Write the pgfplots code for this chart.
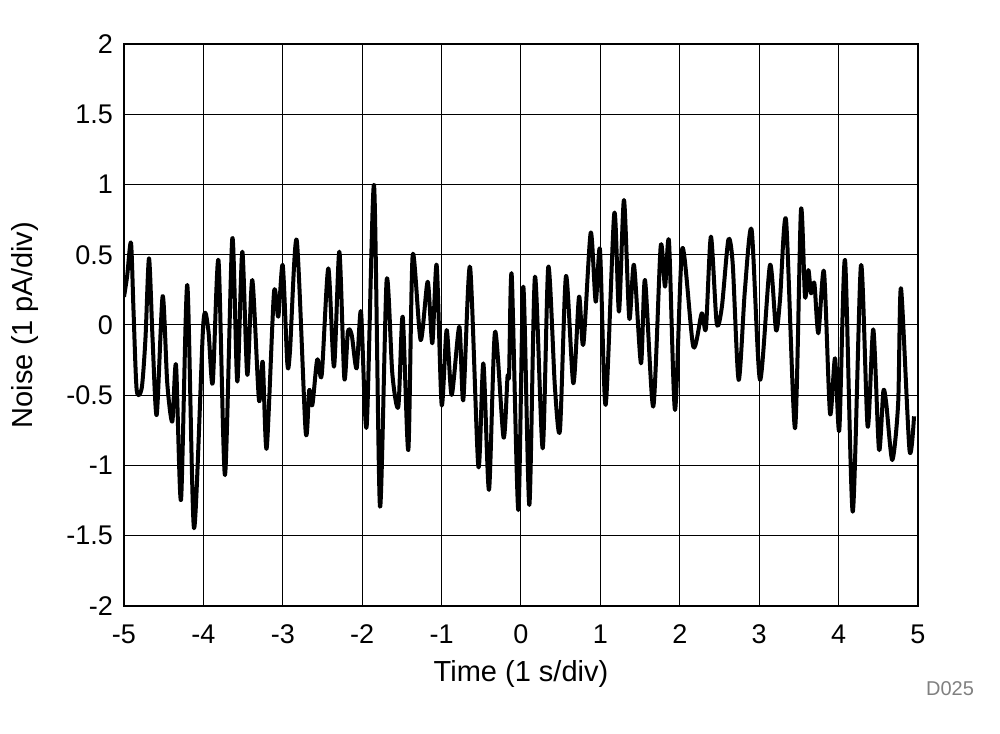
\documentclass[border=0pt]{standalone}
\usepackage{pgfplots}
\pgfplotsset{compat=1.18}
\usepackage{fontspec}
\setmainfont{Liberation Sans}
\begin{document}
\begin{tikzpicture}
\begin{axis}[
  width=397pt, height=281pt, scale only axis,
  xmin=-5, xmax=5, ymin=-2, ymax=2,
  xtick={-5,-4,...,5}, ytick={-2,-1.5,...,2},
  grid=major, major grid style={black, line width=0.5pt},
  major tick length=0pt,
  axis line style={black, line width=1.1pt},
  tick label style={font=\fontsize{13.5}{15}\selectfont},
  /pgf/number format/assume math mode=true,
  yticklabel style={/pgf/number format/fixed, xshift=-2pt},
  xticklabel style={yshift=-6pt},
  label style={font=\fontsize{14.5}{16}\selectfont},
  xlabel={Time (1 s/div)}, ylabel={Noise (1 pA/div)},
  xlabel style={at={(axis description cs:0.5,-0.121)}, anchor=center},
  ylabel style={at={(axis description cs:-0.1247,0.5)}, anchor=center},
]
\addplot[black, line width=2pt, smooth, tension=0.45, line join=round] table {
x y
-5.00 0.20
-4.96 0.35
-4.912 0.586
-4.88 0.10
-4.84 -0.463
-4.777 -0.45
-4.73 -0.10
-4.685 0.475
-4.64 -0.10
-4.588 -0.64
-4.513 0.206
-4.455 -0.415
-4.392 -0.688
-4.345 -0.285
-4.282 -1.245
-4.203 0.285
-4.118 -1.447
-4.001 0.01
-3.938 -0.035
-3.883 -0.415
-3.81 0.46
-3.728 -1.068
-3.636 0.617
-3.573 -0.403
-3.51 0.522
-3.447 -0.356
-3.384 0.32
-3.30 -0.534
-3.253 -0.261
-3.203 -0.878
-3.111 0.23
-3.057 0.059
-3.001 0.427
-2.943 -0.273
-2.91 -0.19
-2.825 0.605
-2.712 -0.759
-2.667 -0.463
-2.628 -0.57
-2.566 -0.244
-2.51 -0.356
-2.427 0.403
-2.355 -0.297
-2.288 0.522
-2.225 -0.38
-2.18 -0.047
-2.132 -0.071
-2.07 -0.309
-2.015 0.095
-1.944 -0.723
-1.851 0.996
-1.776 -1.293
-1.692 0.32
-1.62 -0.35
-1.545 -0.581
-1.49 0.059
-1.419 -0.89
-1.364 0.498
-1.264 -0.107
-1.175 0.308
-1.117 -0.13
-1.062 0.427
-0.999 -0.569
-0.936 -0.036
-0.873 -0.498
-0.777 -0.012
-0.727 -0.534
-0.642 0.415
-0.537 -1.008
-0.474 -0.273
-0.403 -1.174
-0.327 -0.047
-0.22 -0.80
-0.17 -0.37
-0.15 -0.35
-0.117 0.356
-0.034 -1.317
0.029 0.273
0.105 -1.281
0.176 0.344
0.273 -0.878
0.344 0.415
0.428 -0.451
0.491 -0.747
0.567 0.349
0.659 -0.415
0.731 0.201
0.785 -0.142
0.878 0.657
0.941 0.166
0.995 0.534
1.066 -0.569
1.175 0.795
1.234 0.095
1.297 0.89
1.364 0.047
1.423 0.427
1.511 -0.273
1.562 0.32
1.666 -0.581
1.759 0.557
1.814 0.273
1.864 0.593
1.940 -0.605
2.032 0.546
2.17 -0.154
2.276 0.083
2.329 -0.024
2.392 0.629
2.465 0.012
2.53 0.13
2.611 0.605
2.666 0.439
2.741 -0.391
2.82 0.249
2.905 0.676
3.01 -0.391
3.136 0.427
3.212 -0.036
3.262 0.178
3.338 0.747
3.451 -0.735
3.526 0.818
3.577 0.201
3.619 0.391
3.653 0.225
3.695 0.296
3.745 -0.059
3.816 0.38
3.892 -0.629
3.955 -0.237
4.009 -0.747
4.081 0.463
4.178 -1.329
4.282 0.427
4.366 -0.723
4.437 -0.031
4.509 -0.89
4.563 -0.474
4.60 -0.558
4.676 -0.961
4.75 -0.558
4.786 0.261
4.893 -0.89
4.95 -0.65
};
\coordinate (ll) at (rel axis cs:0,0);
\coordinate (ur) at (rel axis cs:1,1);
\end{axis}
\node[anchor=center, text=black!50, font=\fontsize{10}{12}\selectfont] at ([shift={(413pt,-41.5pt)}]ll) {D025};
\pgfresetboundingbox
\path ([shift={(-62pt,-64pt)}]ll) rectangle ([shift={(41pt,22pt)}]ur);
\end{tikzpicture}
\end{document}
